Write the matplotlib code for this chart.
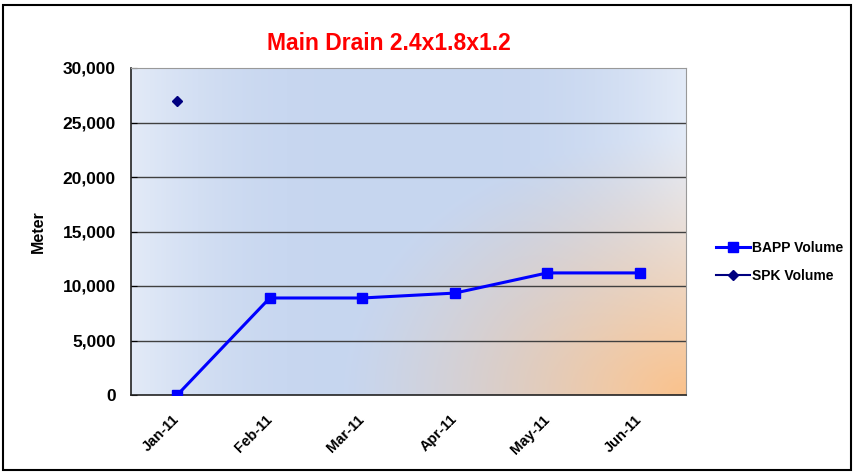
import numpy as np
import matplotlib
matplotlib.use('Agg')
from matplotlib import pyplot as plt
from matplotlib.patches import Rectangle

plt.rcParams['font.family'] = ['Liberation Sans', 'DejaVu Sans']

months = ['Jan-11', 'Feb-11', 'Mar-11', 'Apr-11', 'May-11', 'Jun-11']
bapp = [0, 8900, 8900, 9350, 11200, 11200]
spk_months = ['Jan-11']
spk = [27000]

fig = plt.figure(figsize=(8.54, 4.72), dpi=100)
ax = fig.add_axes([131 / 854, 77 / 472, 555 / 854, 327 / 472])

# gradient background: blue, orange glow bottom right
nx, ny = 300, 200
gx, gy = np.meshgrid(np.linspace(0, 1, nx), np.linspace(1, 0, ny))
blue = np.array([0.78, 0.84, 0.94])
light = np.array([0.89, 0.92, 0.97])
orange = np.array([0.98, 0.76, 0.55])
edge = np.clip(1 - np.minimum(gx, 1 - gx) / 0.35, 0, 1) ** 2
img = blue + (light - blue) * edge[..., None]
d = np.sqrt(((gx - 1.0) / 0.62) ** 2 + ((gy - 0.0) / 0.8) ** 2)
w = np.clip(1 - d, 0, 1) ** 1.2
img = img * (1 - w[..., None]) + orange * w[..., None]
ax.imshow(img, extent=[-0.5, 5.5, 0, 30000], aspect='auto', zorder=0)

x = np.arange(len(months))
ax.plot(x, bapp, color='#0000ff', lw=2.2, marker='s', ms=7, label='BAPP Volume', zorder=3)
ax.plot([months.index(m) for m in spk_months], spk, color='#000080', lw=1.5, marker='D',
        ms=5.5, label='SPK Volume', zorder=3)

ax.set_xlim(-0.5, 5.5)
ax.set_ylim(0, 30000)
ax.set_yticks(np.arange(0, 30001, 5000))
ax.set_yticklabels(['{:,}'.format(v) for v in range(0, 30001, 5000)], fontsize=12.5, fontweight='bold')
ax.set_xticks(x)
ax.set_xticklabels(months, rotation=45, ha='right', va='center', rotation_mode='anchor',
                   fontsize=10.5, fontweight='bold')
ax.tick_params(axis='x', length=0, pad=16)
ax.tick_params(axis='y', length=4, direction='in', pad=11)
for yv in range(5000, 30000, 5000):
    ax.axhline(yv, color='#404040', lw=1, zorder=1)
ax.set_ylabel('Meter', fontsize=11.5, fontweight='bold', labelpad=12)
for s in ['top', 'right']:
    ax.spines[s].set_color('#999999')
for s in ['left', 'bottom']:
    ax.spines[s].set_color('#222222')
    ax.spines[s].set_linewidth(1.2)

fig.text(389 / 854, 1 - 43 / 472, 'Main Drain 2.4x1.8x1.2', color='#ff0000', fontsize=16.5,
         fontweight='bold', ha='center', va='center')

leg = fig.legend(loc='center left', bbox_to_anchor=(704 / 854, 1 - 262 / 472), frameon=False,
                 prop={'weight': 'bold', 'size': 10}, handlelength=2.4, labelspacing=1.0,
                 handletextpad=0.15)

fig.patches.append(Rectangle((3 / 854, 2 / 472), 848 / 854, 465 / 472, transform=fig.transFigure,
                             fill=False, edgecolor='black', lw=1.5))

fig.savefig('out.png', dpi=100)
